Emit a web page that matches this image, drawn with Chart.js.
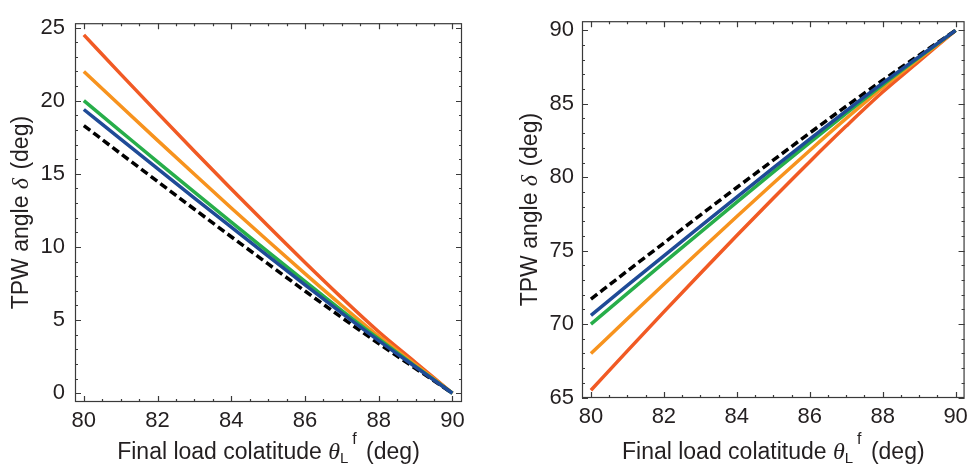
<!DOCTYPE html>
<html lang="en">
<head>
    <meta charset="UTF-8">
    <title>TPW angle vs final load colatitude</title>
    <script src="https://cdn.jsdelivr.net/npm/chart.js"></script>
    <style>
        body {
            margin: 0;
            padding: 0;
            background: #fff;
        }
        .wrap {
            position: relative;
            width: 974px;
            height: 465px;
        }
        .box {
            position: absolute;
            top: 0;
            width: 487px;
            height: 465px;
        }
        #leftBox { left: 0; }
        #rightBox { left: 487px; }
    </style>
</head>
<body>
    <div class="wrap">
        <div class="box" id="leftBox"><canvas id="leftChart" width="487" height="465"></canvas></div>
        <div class="box" id="rightBox"><canvas id="rightChart" width="487" height="465"></canvas></div>
    </div>

    <script>
        // final load colatitude (deg)
        const theta = [80, 81, 82, 83, 84, 85, 86, 87, 88, 89, 90];

        // left panel: TPW angle (deg)
        const leftRed    = [24.5, 21.82, 19.17, 16.55, 13.97, 11.43, 8.94, 6.52, 4.20, 2.10, 0];
        const leftOrange = [22.0, 19.64, 17.29, 14.97, 12.67, 10.41, 8.18, 6.00, 3.90, 1.95, 0];
        const leftGreen  = [20.0, 17.91, 15.82, 13.75, 11.70, 9.66, 7.64, 5.65, 3.71, 1.84, 0];
        const leftBlue   = [19.4, 17.37, 15.35, 13.34, 11.35, 9.37, 7.41, 5.48, 3.60, 1.79, 0];
        const leftBlack  = [18.3, 16.38, 14.48, 12.58, 10.70, 8.84, 6.99, 5.17, 3.40, 1.69, 0];

        // right panel: TPW angle (deg)
        const rightRed    = [65.5, 68.18, 70.83, 73.45, 76.03, 78.57, 81.06, 83.48, 85.80, 87.90, 90];
        const rightOrange = [68.0, 70.36, 72.71, 75.03, 77.33, 79.59, 81.82, 84.00, 86.10, 88.05, 90];
        const rightGreen  = [70.0, 72.09, 74.18, 76.25, 78.30, 80.34, 82.36, 84.35, 86.29, 88.16, 90];
        const rightBlue   = [70.6, 72.63, 74.65, 76.66, 78.65, 80.63, 82.59, 84.52, 86.40, 88.21, 90];
        const rightBlack  = [71.7, 73.62, 75.52, 77.42, 79.30, 81.16, 83.01, 84.83, 86.60, 88.31, 90];

        const RED = '#f15a24', ORANGE = '#f7931e', GREEN = '#27ae4a', BLUE = '#1f4b97', BLACK = '#000000';
        const TEXT = '#231f20', FRAME = '#3a3a3a';
        const SANS = '"Liberation Sans", Arial, Helvetica, sans-serif';
        const SERIF = '"Liberation Serif", "Times New Roman", serif';

        function pts(ys) {
            return theta.map((t, i) => ({ x: t, y: ys[i] }));
        }

        function line(ys, color, dashed) {
            return {
                data: pts(ys),
                borderColor: color,
                backgroundColor: color,
                borderWidth: 3.5,
                borderDash: dashed ? [8, 4] : [],
                pointRadius: 0,
                cubicInterpolationMode: 'monotone',
                fill: false
            };
        }

        function drawRich(ctx, parts, cx, cy, rot) {
            ctx.save();
            ctx.translate(cx, cy);
            ctx.rotate(rot);
            ctx.fillStyle = TEXT;
            ctx.textBaseline = 'alphabetic';
            ctx.textAlign = 'left';
            let total = 0;
            parts.forEach(p => {
                ctx.font = p.font;
                p.w = ctx.measureText(p.t).width + (p.gap || 0);
                total += p.w;
            });
            let x = -total / 2;
            parts.forEach(p => {
                ctx.font = p.font;
                ctx.fillText(p.t, x, p.dy || 0);
                x += p.w;
            });
            ctx.restore();
        }

        const yTitle = [
            { t: 'TPW angle ', font: '23px ' + SANS },
            { t: 'δ', font: 'italic 24px ' + SERIF, gap: 2 },
            { t: ' (deg)', font: '23px ' + SANS }
        ];
        const xTitle = [
            { t: 'Final load colatitude ', font: '23px ' + SANS },
            { t: 'θ', font: 'italic 24px ' + SERIF },
            { t: 'L', font: '15px ' + SANS, dy: 4, gap: 4 },
            { t: 'f', font: '16px ' + SANS, dy: -15, gap: 3 },
            { t: ' (deg)', font: '23px ' + SANS }
        ];

        // frame with inward ticks on all four sides, plus the axis titles
        function framePlugin(cfg) {
            return {
                id: 'frame',
                afterDraw(chart) {
                    const ctx = chart.ctx;
                    const a = chart.chartArea;
                    const xs = chart.scales.x, ys = chart.scales.y;
                    ctx.save();
                    ctx.strokeStyle = FRAME;
                    ctx.lineWidth = 1.2;
                    ctx.strokeRect(a.left + 0.5, a.top + 0.5, a.right - a.left - 1, a.bottom - a.top - 1);
                    ctx.beginPath();
                    for (let i = cfg.xFrom * 2; i <= cfg.xTo * 2; i++) {
                        const v = i / 2;
                        if (v < xs.min || v > xs.max) continue;
                        const len = (i % 4 === 0) ? 6 : 3;
                        const px = Math.round(xs.getPixelForValue(v)) + 0.5;
                        ctx.moveTo(px, a.bottom); ctx.lineTo(px, a.bottom - len);
                        ctx.moveTo(px, a.top); ctx.lineTo(px, a.top + len);
                    }
                    for (let v = cfg.yFrom; v <= cfg.yTo; v++) {
                        if (v < ys.min || v > ys.max) continue;
                        const len = (v % 5 === 0) ? 6 : 3;
                        const py = Math.round(ys.getPixelForValue(v)) + 0.5;
                        ctx.moveTo(a.left, py); ctx.lineTo(a.left + len, py);
                        ctx.moveTo(a.right, py); ctx.lineTo(a.right - len, py);
                    }
                    ctx.stroke();
                    ctx.restore();

                    drawRich(ctx, yTitle, cfg.yTitleX, (a.top + a.bottom) / 2, -Math.PI / 2);
                    drawRich(ctx, xTitle, (a.left + a.right) / 2, cfg.xTitleY, 0);
                }
            };
        }

        function makeChart(id, series, cfg) {
            return new Chart(document.getElementById(id), {
                type: 'line',
                data: {
                    datasets: [
                        line(series.blue, BLUE),
                        line(series.black, BLACK, true),
                        line(series.green, GREEN),
                        line(series.orange, ORANGE),
                        line(series.red, RED)
                    ]
                },
                options: {
                    responsive: false,
                    animation: false,
                    devicePixelRatio: 1,
                    layout: { padding: { top: cfg.top, right: cfg.right, left: 0, bottom: 0 } },
                    plugins: { legend: { display: false }, tooltip: { enabled: false } },
                    scales: {
                        x: {
                            type: 'linear',
                            min: cfg.xMin,
                            max: cfg.xMax,
                            grid: { display: false, drawTicks: false, tickLength: 0 },
                            border: { display: false },
                            ticks: {
                                stepSize: 2,
                                includeBounds: false,
                                padding: 6,
                                color: TEXT,
                                font: { family: SANS, size: 22 }
                            },
                            afterFit(scale) { scale.height = cfg.xHeight; }
                        },
                        y: {
                            type: 'linear',
                            min: cfg.yMin,
                            max: cfg.yMax,
                            grid: { display: false, drawTicks: false, tickLength: 0 },
                            border: { display: false },
                            ticks: {
                                stepSize: 5,
                                includeBounds: false,
                                padding: cfg.yPad,
                                color: TEXT,
                                font: { family: SANS, size: 22 }
                            },
                            afterFit(scale) { scale.width = cfg.yWidth; }
                        }
                    }
                },
                plugins: [framePlugin(cfg)]
            });
        }

        makeChart('leftChart',
            { red: leftRed, orange: leftOrange, green: leftGreen, blue: leftBlue, black: leftBlack },
            {
                xMin: 79.76, xMax: 90.26, yMin: -0.6, yMax: 25.3,
                top: 16, right: 25, yWidth: 75, xHeight: 63, yPad: 10,
                xFrom: 79, xTo: 91, yFrom: -1, yTo: 26,
                yTitleX: 28, xTitleY: 459
            });

        makeChart('rightChart',
            { red: rightRed, orange: rightOrange, green: rightGreen, blue: rightBlue, black: rightBlack },
            {
                xMin: 79.755, xMax: 90.245, yMin: 64.97, yMax: 90.62,
                top: 13, right: 6, yWidth: 95, xHeight: 67, yPad: 8,
                xFrom: 79, xTo: 91, yFrom: 64, yTo: 91,
                yTitleX: 50, xTitleY: 459
            });
    </script>
</body>
</html>
